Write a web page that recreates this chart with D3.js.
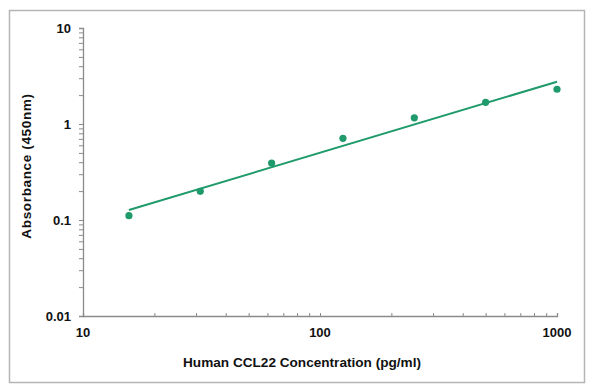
<!DOCTYPE html>
<html><head><meta charset="utf-8">
<script src="https://cdn.jsdelivr.net/npm/d3@7/dist/d3.min.js"></script>
<style>body{margin:0;background:#fff}svg{display:block}text{font-family:"Liberation Sans",Arial,sans-serif;font-weight:bold;fill:#111}</style>
</head><body><svg id="c" width="600" height="391"></svg>
<script>
const concentrations = [15.625, 31.25, 62.5, 125, 250, 500, 1000];
const absorbance = [0.111, 0.199, 0.392, 0.71, 1.16, 1.68, 2.30];
const fitX = [15.625, 1000];
const fitY = [0.127, 2.76];
const xTicks = [10, 100, 1000];
const yTicks = [0.01, 0.1, 1, 10];
const xTitle = "Human CCL22 Concentration (pg/ml)";
const yTitle = "Absorbance (450nm)";

const svg = d3.select("#c");
const green = "#1f9a6b";
svg.append("rect").attr("x", 9.5).attr("y", 10.5).attr("width", 575).attr("height", 372)
  .attr("fill", "#fff").attr("stroke", "#b5b5b5").attr("stroke-width", 1.5);

const x = d3.scaleLog().domain([10, 1000]).range([83, 557]);
const y = d3.scaleLog().domain([0.01, 10]).range([316, 28]);

const xMinor = [], yMinor = [];
[10, 100].forEach(d => { for (let k = 2; k <= 9; k++) xMinor.push(d * k); });
[0.01, 0.1, 1].forEach(d => { for (let k = 2; k <= 9; k++) yMinor.push(d * k); });

const axisColor = "#8a8a8a";
const xa = svg.append("g").attr("transform", "translate(0,316)")
  .call(d3.axisTop(x).tickValues(xMinor.concat(xTicks)).tickSize(3).tickFormat(""));
const ya = svg.append("g").attr("transform", "translate(83,0)")
  .call(d3.axisLeft(y).tickValues(yMinor.concat(yTicks)).tickSize(4).tickFormat(""));
[xa, ya].forEach(g => {
  g.select(".domain").attr("stroke", axisColor).attr("stroke-width", 1.3);
  g.selectAll(".tick line").attr("stroke", axisColor).attr("stroke-width", 1);
});

svg.append("g").selectAll("text").data(xTicks).join("text")
  .attr("x", d => x(d)).attr("y", 337).attr("text-anchor", "middle")
  .attr("font-size", 13).text(d => d3.format("d")(d));
svg.append("g").selectAll("text").data(yTicks).join("text")
  .attr("x", 71).attr("y", d => y(d) + 4.5).attr("text-anchor", "end")
  .attr("font-size", 13).text(d => d >= 1 ? d3.format("d")(d) : String(d));

svg.append("text").attr("x", 302).attr("y", 367).attr("text-anchor", "middle")
  .attr("font-size", 13.6).text(xTitle);
svg.append("text").attr("transform", "translate(31,166) rotate(-90)").attr("text-anchor", "middle")
  .attr("font-size", 13.6).attr("letter-spacing", 0.6).text(yTitle);

const line = d3.line().x(d => x(d[0])).y(d => y(d[1]));
svg.append("path").datum(fitX.map((v, i) => [v, fitY[i]])).attr("d", line)
  .attr("fill", "none").attr("stroke", green).attr("stroke-width", 2);

svg.append("g").selectAll("circle").data(concentrations.map((v, i) => [v, absorbance[i]])).join("circle")
  .attr("cx", d => x(d[0])).attr("cy", d => y(d[1])).attr("r", 3.6).attr("fill", green);
</script></body></html>
